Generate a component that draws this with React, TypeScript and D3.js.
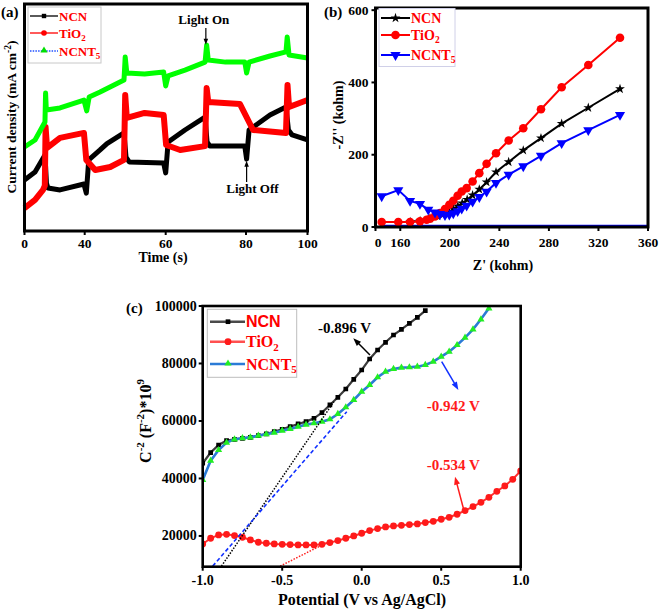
import React from 'react';
import * as d3 from 'd3';

const SERIF = '"Liberation Serif", "Times New Roman", Times, serif';
const SANS = '"Liberation Sans", Arial, Helvetica, sans-serif';

type P = [number, number];

// ================= Panel (a): transient photocurrent (arbitrary units) =================
const aTimeTicks = [0, 40, 60, 80, 100];
const aTimeLabels = ['0', '40', '60', '80', '100'];
const aNCN: P[] = [
  [0, 2.25], [7, 2.6], [13.6, 3.35], [14.6, 2.11], [15.6, 1.89], [23.6, 1.81], [39.5, 2.07],
  [40.4, 1.67], [41, 3.13], [43.8, 3.57], [45.5, 3.85], [49.7, 4.32], [50.2, 3.26], [51, 3.04],
  [59.5, 3.0], [60, 2.56], [60.6, 3.92], [64.8, 4.45], [69.8, 5.02], [70.3, 3.92], [71, 3.74],
  [79.7, 3.74], [80.2, 3.17], [81, 4.45], [87.8, 5.11], [93, 5.46], [93.8, 4.45], [95, 4.23], [100, 4.01],
];
const aTiO2: P[] = [
  [0, 1.01], [7, 1.37], [12.3, 1.81], [13.5, 2.0], [14, 4.58], [15, 3.66], [23.6, 4.1], [39.5, 4.32],
  [40.4, 3.13], [42.6, 2.69], [46.3, 2.82], [49.7, 3.13], [50, 5.99], [50.4, 4.98], [54.8, 5.2],
  [59.5, 5.11], [60.1, 3.79], [63.6, 3.57], [69.8, 3.74], [70.2, 6.3], [70.6, 5.68], [78.5, 5.59],
  [82.3, 4.45], [93, 4.32], [93.5, 6.43], [94, 5.46], [100, 5.77],
];
const aNCNT5: P[] = [
  [0, 3.7], [7, 4.01], [13.6, 4.8], [14, 6.08], [14.5, 5.33], [23.6, 5.42], [39.5, 5.77], [40.5, 5.29],
  [41.1, 5.9], [43.8, 6.12], [49.7, 6.65], [50, 7.67], [50.4, 6.96], [54.8, 6.92], [59.5, 7.0],
  [60, 6.39], [60.6, 6.83], [64.8, 7.09], [69.8, 7.44], [70.2, 8.19], [70.6, 7.53], [74.9, 7.44],
  [79.7, 7.44], [80.2, 6.96], [81, 7.44], [87.8, 7.71], [93, 7.89], [93.4, 8.55], [94, 7.75], [100, 7.62],
];

// ================= Panel (b): Nyquist plot =================
const bXTicks = [140, 160, 200, 240, 280, 320, 360];
const bXTickLabels = ['0', '160', '200', '240', '280', '320', '360'];
const bYTicks = [0, 200, 400, 600];
const bNCN_x = [168, 176, 184, 190, 195, 199.6, 203, 206.5, 210, 214, 218.4, 223.8, 229.7, 237.3, 247.5, 259.3, 273.6, 290.3, 311.8, 337.4];
const bNCN_y = [14, 17, 24, 30, 36, 42, 50, 58, 66, 76, 88, 104, 124, 152, 180, 212, 246, 286, 330, 382];
const bTiO2_x = [145.0, 158.4, 167.9, 175.9, 181.3, 184.0, 188.0, 192.1, 196.1, 199.6, 202.8, 206.3, 209.6, 213.6, 218.4, 223.8, 229.7, 237.3, 247.5, 259.3, 273.6, 290.3, 311.8, 337.4];
const bTiO2_y = [13.7, 13.7, 13.7, 15.6, 20.2, 22.9, 29.3, 38.6, 49.6, 61.6, 72.6, 86.4, 98.4, 107.6, 126.0, 149.0, 174.8, 204.2, 239.2, 273.3, 325.7, 386.5, 448.1, 523.6];
const bNCNT5_x = [145.0, 158.4, 167.9, 175.9, 182.6, 188.0, 192.1, 196.1, 199.6, 202.8, 206.3, 209.6, 213.6, 218.4, 223.8, 229.7, 237.3, 247.5, 259.3, 273.6, 290.3, 311.8, 337.4];
const bNCNT5_y = [85, 102, 72, 64, 48, 40, 36, 33, 34, 38, 44, 51, 59, 70, 83, 98, 122, 145, 168, 197, 232, 268, 310];

// ================= Panel (c): Mott-Schottky =================
const cXTicks = [-1.0, -0.5, 0.0, 0.5, 1.0];
const cXTickLabels = ['-1.0', '-0.5', '0.0', '0.5', '1.0'];
const cYTicks = [20000, 40000, 60000, 80000, 100000];
const cPotential = [
  -1.0, -0.95, -0.9, -0.85, -0.8, -0.75, -0.7, -0.65, -0.6, -0.55, -0.5, -0.45, -0.4, -0.35, -0.3, -0.25,
  -0.2, -0.15, -0.1, -0.05, 0.0, 0.05, 0.1, 0.15, 0.2, 0.25, 0.3, 0.35, 0.4, 0.45, 0.5, 0.55, 0.6, 0.65,
  0.7, 0.75, 0.8, 0.85, 0.9, 0.95, 1.0,
];
const cNCN = [
  45300, 49000, 51650, 53150, 53600, 53970, 54320, 54900, 55480, 56300, 57100, 58030, 58960, 59770, 60930,
  62900, 65570, 68230, 71130, 74490, 77740, 81570, 84700, 87360, 89910, 91880, 93970, 96060, 98380,
];
const cNCNT5 = [
  39500, 46200, 49900, 52460, 53600, 54000, 54300, 54900, 55360, 55940, 56640, 57220, 58030, 58730, 59190,
  59770, 60580, 62440, 64760, 67300, 70200, 72520, 75190, 77160, 78090, 78550, 78670, 78900, 79480, 80640,
  82380, 84120, 86430, 88990, 91880, 95360, 99190,
];
const cTiO2 = [
  17200, 19190, 20350, 20580, 20120, 19540, 18610, 17800, 17450, 17220, 17100, 16990, 16870, 16870, 16870,
  17100, 17680, 18380, 19190, 20000, 20930, 21860, 22550, 23130, 23480, 23710, 23940, 24170, 24640, 25100,
  25800, 26490, 27540, 28810, 30200, 31710, 33450, 35540, 37390, 39710, 42610,
];
const cTangentNCN: P[] = [[-0.882, 9500], [-0.175, 66700]];
const cTangentNCNT5: P[] = [[-0.937, 9500], [-0.094, 63240]];
const cTangentTiO2: P[] = [[-0.513, 9500], [-0.22, 17670]];

function head(x1: number, y1: number, x2: number, y2: number, len: number, w: number) {
  const a = Math.atan2(y2 - y1, x2 - x1);
  const bx = x2 - len * Math.cos(a), by = y2 - len * Math.sin(a);
  const px = -Math.sin(a) * w / 2, py = Math.cos(a) * w / 2;
  return `${x2},${y2} ${bx + px},${by + py} ${bx - px},${by - py}`;
}

function Arrow({ x1, y1, x2, y2, color, sw = 1.5, len = 8, w = 6 }: any) {
  const a = Math.atan2(y2 - y1, x2 - x1);
  const ex = x2 - (len * 0.8) * Math.cos(a), ey = y2 - (len * 0.8) * Math.sin(a);
  return (
    <g>
      <line x1={x1} y1={y1} x2={ex} y2={ey} stroke={color} strokeWidth={sw} />
      <polygon points={head(x1, y1, x2, y2, len, w)} fill={color} />
    </g>
  );
}

const starPath = d3.symbol(d3.symbolStar, 30)() as string;
const triPath = d3.symbol(d3.symbolTriangle, 45)() as string;
const triSmall = d3.symbol(d3.symbolTriangle, 22)() as string;
const sqPath = d3.symbol(d3.symbolSquare, 22)() as string;

function PanelA() {
  const L = 24.5, R = 307.5, T = 4, B = 231;
  const x = d3.scaleLinear().domain(aTimeTicks).range([L, 84.7, 165.7, 246, R]);
  const y = d3.scaleLinear().domain([0, 10]).range([B, T]);
  const line = d3.line<P>().x(d => x(d[0])).y(d => y(d[1]));
  const series = [
    { data: aNCN, color: '#000000', w: 5 },
    { data: aTiO2, color: '#ff0000', w: 6 },
    { data: aNCNT5, color: '#00ff00', w: 5 },
  ];
  const ly = [16, 33, 51];
  return (
    <g>
      {series.map((s, i) => (
        <path key={i} d={line(s.data) as string} fill="none" stroke={s.color} strokeWidth={s.w} strokeLinejoin="round" />
      ))}
      <rect x={L} y={T} width={R - L} height={B - T} fill="none" stroke="#000" strokeWidth={3} />
      {aTimeTicks.map((t, i) => (
        <g key={t}>
          <line x1={x(t)} x2={x(t)} y1={B} y2={B + 4} stroke="#000" strokeWidth={2} />
          <text x={x(t)} y={248} textAnchor="middle" fontSize={13.5}>{aTimeLabels[i]}</text>
        </g>
      ))}
      <text x={163} y={262} textAnchor="middle" fontSize={14}>Time (s)</text>
      <text transform="translate(16,117) rotate(-90)" textAnchor="middle" fontSize={13.5}>
        Current density (mA cm<tspan fontSize={9.5} dy={-5}>-2</tspan><tspan dy={5}>)</tspan>
      </text>
      <text x={1} y={17} fontSize={15}>(a)</text>
      {/* legend */}
      <rect x={28} y={7} width={73} height={56} fill="#fff" stroke="#c8c8c8" strokeWidth={1} />
      <line x1={30} x2={58} y1={ly[0]} y2={ly[0]} stroke="#000" strokeWidth={1.3} />
      <rect x={41.8} y={ly[0] - 2.2} width={4.4} height={4.4} fill="#000" />
      <line x1={30} x2={58} y1={ly[1]} y2={ly[1]} stroke="#ff0000" strokeWidth={1.3} />
      <circle cx={44} cy={ly[1]} r={2.8} fill="#ff0000" />
      <line x1={30} x2={58} y1={ly[2]} y2={ly[2]} stroke="#2050ff" strokeWidth={1.5} strokeDasharray="1.5 1.2" />
      <path d={triSmall} transform={`translate(44,${ly[2] - 0.5})`} fill="#00e000" />
      <text x={59} y={ly[0] + 4.5} fontSize={13} fill="#ff0000">NCN</text>
      <text x={59} y={ly[1] + 4.5} fontSize={13} fill="#ff0000">TiO<tspan fontSize={9} dy={3}>2</tspan></text>
      <text x={59} y={ly[2] + 4.5} fontSize={13} fill="#ff0000">NCNT<tspan fontSize={9} dy={3}>5</tspan></text>
      {/* annotations */}
      <text x={x(69.5)} y={y(9.12)} textAnchor="middle" fontSize={13}>Light On</text>
      <Arrow x1={x(70)} y1={y(8.94)} x2={x(70)} y2={y(8.2)} color="#000" sw={1.2} len={6} w={4.5} />
      <text x={x(82.1)} y={y(1.67)} textAnchor="middle" fontSize={13}>Light Off</text>
      <Arrow x1={x(80.2)} y1={y(2.16)} x2={x(80.2)} y2={y(3.1)} color="#000" sw={1.2} len={6} w={4.5} />
    </g>
  );
}

function PanelB() {
  const L = 375.5, R = 648, T = 8, B = 227;
  const x = d3.scaleLinear().domain([140, 360]).range([L, R]);
  const y = d3.scaleLinear().domain([0, 606]).range([B, T]);
  const mk = (xs: number[], ys: number[]) => xs.map((v, i) => [v, ys[i]] as P);
  const line = d3.line<P>().x(d => x(d[0])).y(d => y(d[1]));
  const ncn = mk(bNCN_x, bNCN_y), tio = mk(bTiO2_x, bTiO2_y), ncnt = mk(bNCNT5_x, bNCNT5_y);
  const ly = [18, 35, 55];
  return (
    <g>
      <line x1={x(145)} x2={R} y1={y(0) - 1.5} y2={y(0) - 1.5} stroke="#0000ff" strokeWidth={1.5} />
      <path d={line(ncn) as string} fill="none" stroke="#000" strokeWidth={2} />
      {ncn.map((d, i) => <path key={i} d={starPath} transform={`translate(${x(d[0])},${y(d[1])})`} fill="#000" />)}
      <path d={line(tio) as string} fill="none" stroke="#ff0000" strokeWidth={2} />
      {tio.map((d, i) => <circle key={i} cx={x(d[0])} cy={y(d[1])} r={4.3} fill="#ff0000" />)}
      <path d={line(ncnt) as string} fill="none" stroke="#0000ff" strokeWidth={2} />
      {ncnt.map((d, i) => <path key={i} d={triPath} transform={`translate(${x(d[0])},${y(d[1])}) rotate(180)`} fill="#0000ff" />)}
      <rect x={L} y={T} width={R - L} height={B - T} fill="none" stroke="#000" strokeWidth={3} />
      {bXTicks.map((t, i) => (
        <g key={t}>
          <line x1={x(t)} x2={x(t)} y1={B} y2={B + 4} stroke="#000" strokeWidth={2} />
          <text x={x(t) + (i === 0 ? 2.5 : 0)} y={246.5} textAnchor="middle" fontSize={13.5}>{bXTickLabels[i]}</text>
        </g>
      ))}
      {bYTicks.map(t => (
        <g key={t}>
          <line x1={L - 4} x2={L} y1={y(t)} y2={y(t)} stroke="#000" strokeWidth={2} />
          <text x={L - 7} y={y(t) + 4.5} textAnchor="end" fontSize={13.5}>{t}</text>
        </g>
      ))}
      <text x={503} y={270} textAnchor="middle" fontSize={14}>Z' (kohm)</text>
      <text transform="translate(343,115) rotate(-90)" textAnchor="middle" fontSize={14}>-Z'' (kohm)</text>
      <text x={324} y={17} fontSize={15}>(b)</text>
      {/* legend */}
      <rect x={379} y={8.5} width={76} height={58} fill="#fff" stroke="#d0d0e8" strokeWidth={1} />
      <line x1={381} x2={410} y1={ly[0]} y2={ly[0]} stroke="#000" strokeWidth={2} />
      <path d={starPath} transform={`translate(395.5,${ly[0]})`} fill="#000" />
      <line x1={381} x2={410} y1={ly[1]} y2={ly[1]} stroke="#ff0000" strokeWidth={2} />
      <circle cx={395.5} cy={ly[1]} r={4.3} fill="#ff0000" />
      <line x1={381} x2={410} y1={ly[2]} y2={ly[2]} stroke="#0000ff" strokeWidth={2} />
      <path d={triPath} transform={`translate(395.5,${ly[2]}) rotate(180)`} fill="#0000ff" />
      <text x={411} y={ly[0] + 5} fontSize={14} fill="#ff0000">NCN</text>
      <text x={411} y={ly[1] + 5} fontSize={14} fill="#ff0000">TiO<tspan fontSize={9.5} dy={3}>2</tspan></text>
      <text x={411} y={ly[2] + 5} fontSize={14} fill="#ff0000">NCNT<tspan fontSize={9.5} dy={3}>5</tspan></text>
    </g>
  );
}

function PanelC() {
  const L = 202.7, R = 520.7, T = 306, B = 566.7;
  const x = d3.scaleLinear().domain([-1, 1]).range([L, R]);
  const y = d3.scaleLinear().domain([9300, 100000]).range([B, T]);
  const line = d3.line<P>().x(d => x(d[0])).y(d => y(d[1]));
  const ncn = cNCN.map((v, i) => [cPotential[i], v] as P);
  const ncnt = cNCNT5.map((v, i) => [cPotential[i], v] as P);
  const tio = cTiO2.map((v, i) => [cPotential[i], v] as P);
  const ly = [321.7, 341.7, 364];
  return (
    <g>
      <defs>
        <clipPath id="clipc"><rect x={L} y={T} width={R - L} height={B - T} /></clipPath>
      </defs>
      <g clipPath="url(#clipc)">
        <path d={line(tio) as string} fill="none" stroke="#ff3030" strokeWidth={2} />
        {tio.map((d, i) => <circle key={i} cx={x(d[0])} cy={y(d[1])} r={3.4} fill="#ff1a1a" />)}
        <path d={line(ncn) as string} fill="none" stroke="#3c3c3c" strokeWidth={2.2} />
        {ncn.map((d, i) => <path key={i} d={sqPath} transform={`translate(${x(d[0])},${y(d[1])})`} fill="#000" />)}
        <path d={line(ncnt) as string} fill="none" stroke="#2b7bd6" strokeWidth={2.6} />
        {ncnt.map((d, i) => <path key={i} d={triSmall} transform={`translate(${x(d[0])},${y(d[1])})`} fill="#22ee22" />)}
        <path d={line(cTangentNCN) as string} fill="none" stroke="#000" strokeWidth={1.5} strokeDasharray="1.5 1.5" />
        <path d={line(cTangentNCNT5) as string} fill="none" stroke="#1030ff" strokeWidth={1.6} strokeDasharray="4 2.5" />
        <path d={line(cTangentTiO2) as string} fill="none" stroke="#ff2020" strokeWidth={1.5} strokeDasharray="1.5 1.5" />
      </g>
      <rect x={L} y={T} width={R - L} height={B - T} fill="none" stroke="#000" strokeWidth={2.6} />
      {cXTicks.map((t, i) => (
        <g key={t}>
          <line x1={x(t)} x2={x(t)} y1={B} y2={B + 4} stroke="#000" strokeWidth={2} />
          <text x={x(t)} y={585} textAnchor="middle" fontSize={14}>{cXTickLabels[i]}</text>
        </g>
      ))}
      {cYTicks.map(t => (
        <g key={t}>
          <line x1={L - 4} x2={L} y1={y(t)} y2={y(t)} stroke="#000" strokeWidth={2} />
          <text x={L - 6} y={y(t) + 4.5} textAnchor="end" fontSize={14}>{t}</text>
        </g>
      ))}
      <text x={362} y={605} textAnchor="middle" fontSize={16}>Potential (V vs Ag/AgCl)</text>
      <text transform="translate(151,421) rotate(-90)" textAnchor="middle" fontSize={16}>
        C<tspan fontSize={11} dy={-7}>-2</tspan><tspan dy={7}> (F</tspan><tspan fontSize={11} dy={-7}>-2</tspan><tspan dy={7}>)*10</tspan><tspan fontSize={11} dy={-7}>9</tspan>
      </text>
      <text x={126} y={313} fontSize={15}>(c)</text>
      {/* legend */}
      <rect x={207.3} y={309.3} width={89.4} height={68} fill="#fff" stroke="#bdbdbd" strokeWidth={1} />
      <line x1={210} x2={245} y1={ly[0]} y2={ly[0]} stroke="#4a4a4a" strokeWidth={2.5} />
      <path d={sqPath} transform={`translate(228,${ly[0]})`} fill="#000" />
      <line x1={210} x2={245} y1={ly[1]} y2={ly[1]} stroke="#ff5050" strokeWidth={2.5} />
      <circle cx={228} cy={ly[1]} r={3.4} fill="#ff1a1a" />
      <line x1={210} x2={245} y1={ly[2]} y2={ly[2]} stroke="#2b7bd6" strokeWidth={2.6} />
      <path d={triSmall} transform={`translate(228,${ly[2] - 0.5})`} fill="#22ee22" />
      <text x={246} y={ly[0] + 5.5} fontSize={16} fill="#ff0000" fontFamily={SANS}>NCN</text>
      <text x={246} y={ly[1] + 5.5} fontSize={16} fill="#ff0000">TiO<tspan fontSize={11} dy={3.5}>2</tspan></text>
      <text x={246} y={ly[2] + 5.5} fontSize={16} fill="#ff0000">NCNT<tspan fontSize={11} dy={3.5}>5</tspan></text>
      {/* annotations */}
      <text x={x(-0.275)} y={y(90500)} fontSize={15} fill="#000">-0.896 V</text>
      <Arrow x1={x(0.052)} y1={y(82960)} x2={x(-0.053)} y2={y(88770)} color="#000" />
      <text x={x(0.409)} y={y(63480)} fontSize={15} fill="#ff1a1a">-0.942 V</text>
      <Arrow x1={x(0.503)} y1={y(80630)} x2={x(0.608)} y2={y(70780)} color="#1030ff" />
      <text x={x(0.409)} y={y(42960)} fontSize={15} fill="#ff1a1a">-0.534 V</text>
      <Arrow x1={x(0.645)} y1={y(28450)} x2={x(0.587)} y2={y(40630)} color="#ff1a1a" />
    </g>
  );
}

export default function App() {
  return (
    <svg
      width={661}
      height={612}
      viewBox="0 0 661 612"
      style={{ position: 'absolute', left: 0, top: 0, display: 'block', background: '#fff' }}
      fontFamily={SERIF}
      fontWeight="bold"
    >
      <rect x={0} y={0} width={661} height={612} fill="#fff" />
      <PanelA />
      <PanelB />
      <PanelC />
    </svg>
  );
}
